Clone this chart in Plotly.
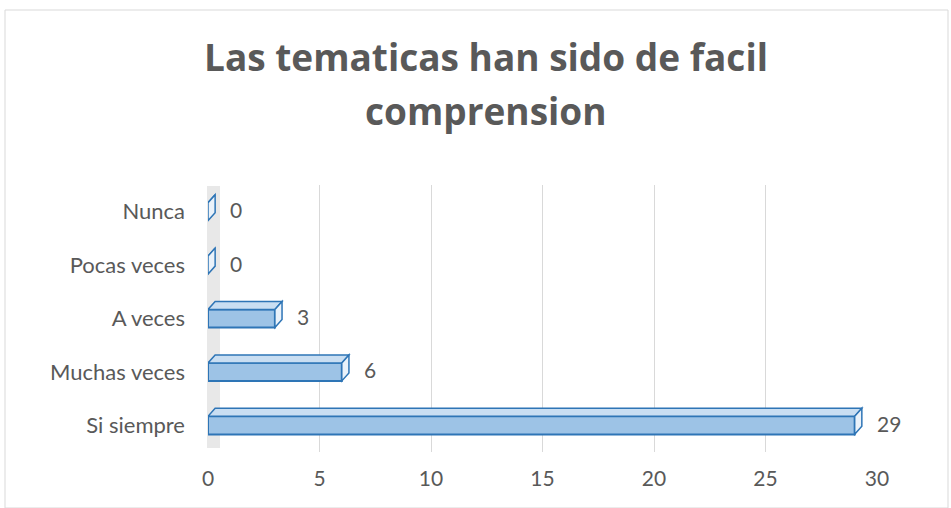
import plotly.graph_objects as go

categories = ["Si siempre", "Muchas veces", "A veces", "Pocas veces", "Nunca"]
values = [29, 6, 3, 0, 0]
x_ticks = [0, 5, 10, 15, 20, 25, 30]
title_lines = ["Las tematicas han sido de facil", "comprension"]

W, H = 951, 508
L, R, T, B = 208, 877, 185, 452
FONT = "Lato, Liberation Sans, sans-serif"
GREY = "#595959"
EDGE = "#2E75B6"

fig = go.Figure()
fig.add_trace(go.Bar(
    y=categories, x=values, orientation="h",
    marker=dict(color="#9DC3E6", line=dict(color=EDGE, width=2)),
    width=0.34,
    cliponaxis=False,
))

# pseudo-3D faces of each bar (x in data units, y in pixels about the category)
dx, dy, hh = 0.32, 8, 9
for i, (c, v) in enumerate(zip(categories, values)):
    top = f"M 0,{hh} L {v},{hh} L {v+dx},{hh+dy} L {dx},{hh+dy} Z"
    side = f"M {v},{hh} L {v+dx},{hh+dy} L {v+dx},{-hh+dy} L {v},{-hh} Z"
    fig.add_shape(type="path", path=top, xref="x", yref="y", ysizemode="pixel",
                  yanchor=i, fillcolor="#C9DEF2", line=dict(color=EDGE, width=1.5))
    fig.add_shape(type="path", path=side, xref="x", yref="y", ysizemode="pixel",
                  yanchor=i, fillcolor="#EAF2FA", line=dict(color=EDGE, width=1.5))
    fig.add_annotation(x=v, y=c, xref="x", yref="y", text=str(v), showarrow=False,
                       xanchor="left", yanchor="middle", xshift=20, yshift=2,
                       font=dict(family=FONT, size=21, color=GREY))

for k, line in enumerate(title_lines):
    fig.add_annotation(x=0.415, y=(B - (57 + 53 * k)) / (B - T), xref="paper", yref="paper",
                       text=f"<b>{line}</b>", showarrow=False, xanchor="center", yanchor="middle",
                       font=dict(family="Open Sans, sans-serif", size=37, color=GREY))

fig.update_layout(
    width=W, height=H,
    margin=dict(l=L, r=W - R, t=T, b=H - B, autoexpand=False),
    paper_bgcolor="white", plot_bgcolor="white",
    showlegend=False,
    xaxis=dict(
        range=[0, 30], tickvals=x_ticks, showgrid=True, gridcolor="#d9d9d9",
        zeroline=False, showline=False, ticks="", ticklabelstandoff=12,
        automargin=False,
        tickfont=dict(family=FONT, size=21, color=GREY),
    ),
    yaxis=dict(
        categoryorder="array", categoryarray=categories,
        showgrid=False, zeroline=False, showline=False, ticks="",
        ticklabelstandoff=22, automargin=False,
        tickfont=dict(family=FONT, size=22, color=GREY),
    ),
)

def px(x):
    return (x - L) / (R - L)

def py(y):
    return (B - y) / (B - T)

# side wall (3D look)
fig.add_shape(type="rect", xref="paper", yref="paper",
              x0=px(207), x1=px(220), y0=py(448), y1=py(186),
              fillcolor="#e8e8e8", line=dict(width=0), layer="below")
# chart border
fig.add_shape(type="rect", xref="paper", yref="paper",
              x0=px(5), x1=px(948), y0=py(508), y1=py(10),
              fillcolor="rgba(0,0,0,0)", line=dict(color="#d9d9d9", width=1))

fig.write_html("out.html", config={"displayModeBar": False},
               post_script="document.body.style.margin='0';")
